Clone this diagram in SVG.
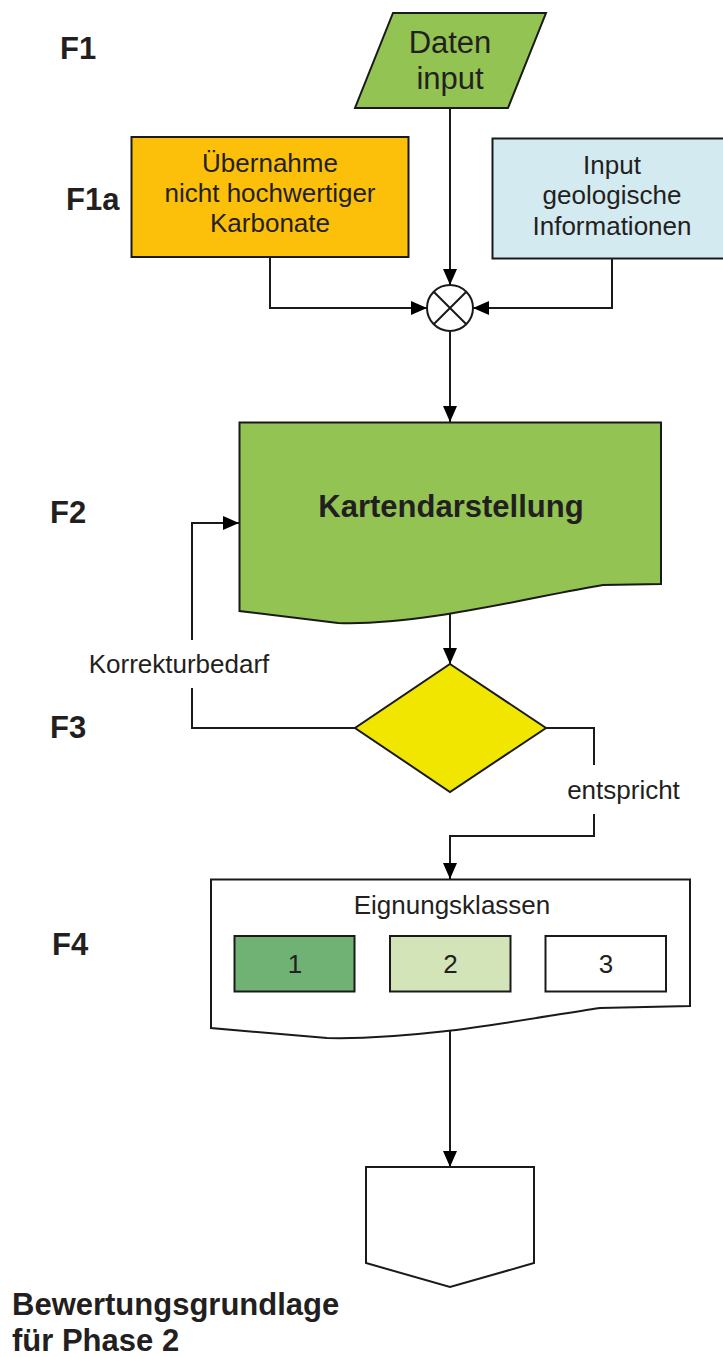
<svg xmlns="http://www.w3.org/2000/svg" width="723" height="1357" viewBox="0 0 723 1357">
<style>
text{font-family:"Liberation Sans",Arial,sans-serif;fill:#231f20}
.lbl{font-size:31px;font-weight:bold}
.t26{font-size:26px;text-anchor:middle}
.big{font-size:31px;text-anchor:middle}
.shape{stroke:#1a1a1a;stroke-width:2;stroke-linejoin:miter}
.conn{fill:none;stroke:#1a1a1a;stroke-width:2}
</style>
<defs>
<marker id="arr" markerUnits="userSpaceOnUse" markerWidth="16" markerHeight="14" refX="16" refY="7" orient="auto">
<path d="M0,0 L16,7 L0,14 Z" fill="#000"/>
</marker>
</defs>
<rect width="723" height="1357" fill="#fff"/>
<g id="labels">
<text class="lbl" x="60" y="59">F1</text>
<text class="lbl" x="66" y="210">F1a</text>
<text class="lbl" x="50" y="523">F2</text>
<text class="lbl" x="50" y="738">F3</text>
<text class="lbl" x="52" y="955">F4</text>
<text class="lbl" x="12" y="1315">Bewertungsgrundlage</text>
<text class="lbl" x="12" y="1351">für Phase 2</text>
</g>
<g id="connectors">
<path class="conn" d="M450,108 L450,285" marker-end="url(#arr)"/>
<path class="conn" d="M270,257 L270,308 L427,308" marker-end="url(#arr)"/>
<path class="conn" d="M612,258 L612,308 L473,308" marker-end="url(#arr)"/>
<path class="conn" d="M450,331 L450,422" marker-end="url(#arr)"/>
<path class="conn" d="M450,611 L450,664" marker-end="url(#arr)"/>
<path class="conn" d="M355,728 L192,728 L192,688"/>
<path class="conn" d="M192,640 L192,523 L239,523" marker-end="url(#arr)"/>
<path class="conn" d="M546,728 L594,728 L594,765"/>
<path class="conn" d="M594,814 L594,836 L450,836 L450,879" marker-end="url(#arr)"/>
<path class="conn" d="M450,1030 L450,1167" marker-end="url(#arr)"/>
<text class="t26" x="179" y="673">Korrekturbedarf</text>
<text class="t26" x="623.5" y="799">entspricht</text>
</g>
<g id="daten-input">
<path class="shape" d="M393,13 L546,13 L508,108 L355,108 Z" fill="#92c353"/>
<text class="big" x="450" y="53">Daten</text>
<text class="big" x="450" y="89">input</text>
</g>
<g id="uebernahme">
<rect class="shape" x="131.5" y="137" width="277" height="120" fill="#fcbf0a"/>
<text class="t26" x="270" y="172">Übernahme</text>
<text class="t26" x="270" y="202">nicht hochwertiger</text>
<text class="t26" x="270" y="232">Karbonate</text>
</g>
<g id="geologie">
<rect class="shape" x="492.5" y="138.5" width="240" height="120" fill="#d3eaf1"/>
<text class="t26" x="612" y="173.5">Input</text>
<text class="t26" x="612" y="204">geologische</text>
<text class="t26" x="612" y="234.5">Informationen</text>
</g>
<g id="merge">
<circle class="shape" cx="450" cy="308" r="23" fill="#fff"/>
<path class="conn" d="M433.7,291.7 L466.3,324.3 M466.3,291.7 L433.7,324.3"/>
</g>
<g id="kartendarstellung">
<path class="shape" d="M239.5,422.5 L661,422.5 L661,584 L603,585 C530,597 420,626 338,623 L239.5,611 Z" fill="#92c353"/>
<text class="big" x="451" y="517" font-weight="bold">Kartendarstellung</text>
</g>
<g id="entscheidung">
<path class="shape" d="M450,664 L546,728 L450,792 L355,728 Z" fill="#f1e600"/>
</g>
<g id="eignungsklassen">
<path class="shape" d="M211,879.5 L690,879.5 L690,1006 L600,1008 C520,1020 420,1040 327,1038 L211,1028 Z" fill="#fff"/>
<text class="t26" x="452" y="914">Eignungsklassen</text>
<rect class="shape" x="234.5" y="936" width="120" height="55.5" fill="#70b274"/>
<text class="t26" x="295" y="973">1</text>
<rect class="shape" x="390" y="936" width="120.5" height="55.5" fill="#d3e4b9"/>
<text class="t26" x="450.5" y="973">2</text>
<rect class="shape" x="545.5" y="936" width="120.5" height="55.5" fill="#fff"/>
<text class="t26" x="606" y="973">3</text>
</g>
<g id="bewertungsgrundlage">
<path class="shape" d="M366,1167 L534,1167 L534,1263 L450,1287 L366,1263 Z" fill="#fff"/>
</g>
</svg>
